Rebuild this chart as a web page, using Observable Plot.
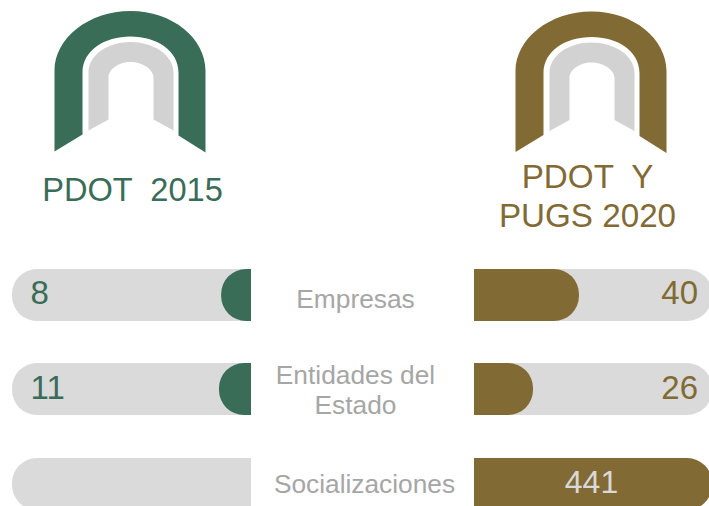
<!DOCTYPE html>
<html><head><meta charset="utf-8">
<style>html,body{margin:0;padding:0;background:#fff;overflow:hidden}svg{display:block}</style>
<script src="https://cdn.jsdelivr.net/npm/d3@7"></script>
<script src="https://cdn.jsdelivr.net/npm/@observablehq/plot@0.6"></script>
</head><body>
<script>
// Data
const categories = ["Empresas", "Entidades del\nEstado", "Socializaciones"];
const values2015 = [8, 11, null];
const values2020 = [40, 26, 441];
const fillShare2015 = [0.125, 0.134, 0];
const fillShare2020 = [0.441, 0.248, 1];
const headers = ["PDOT  2015", "PDOT  Y\nPUGS 2020"];

// Style and layout
const green = "#396D57", brown = "#826A34", track = "#DADADA", arch = "#D2D2D2", grey = "#A6A6A6";
const font = "Liberation Sans, Arial, sans-serif";
const leftEdge = 251, leftLen = 239, rightEdge = 474, rightLen = 238;
const rowTop = [269, 363, 458], rowHeight = 52, radius = 25;
const rowIdx = d3.range(categories.length);

// Arch glyphs, drawn relative to their centre
const outerArch = {draw(c) {
  c.moveTo(-76, 71); c.lineTo(-76, -10);
  c.bezierCurveTo(-76, -42, -42, -69.5, 0, -69.5);
  c.bezierCurveTo(42, -69.5, 75, -42, 75, -10);
  c.lineTo(75, 72); c.lineTo(48, 55); c.lineTo(48, -8);
  c.bezierCurveTo(48, -30, 26, -44, 0, -44);
  c.bezierCurveTo(-26, -44, -48, -30, -48, -8);
  c.lineTo(-48, 54); c.closePath();
}};
const innerArch = {draw(c) {
  c.moveTo(-42, 50); c.lineTo(-42, -8);
  c.bezierCurveTo(-42, -26, -22, -38.5, 0, -38.5);
  c.bezierCurveTo(22, -38.5, 43, -26, 43, -8);
  c.lineTo(43, 50); c.lineTo(23, 39); c.lineTo(23, -3);
  c.bezierCurveTo(23, -11, 12, -18.5, 0, -18.5);
  c.bezierCurveTo(-12, -18.5, -22, -11, -22, -3);
  c.lineTo(-22, 39); c.closePath();
}};
const icons = [{x: 130, y: 80, color: green}, {x: 591, y: 80.5, color: brown}];

const rects = (edge, len, side, share) => rowIdx.map(i => ({
  x1: side < 0 ? edge - share(i) * len : edge,
  x2: side < 0 ? edge : edge + share(i) * len,
  y1: rowTop[i], y2: rowTop[i] + rowHeight
}));
const mid = i => rowTop[i] + rowHeight / 2;

const chart = Plot.plot({
  width: 709, height: 506,
  margin: 0,
  x: {domain: [0, 709], range: [0, 709], axis: null},
  y: {domain: [0, 506], range: [0, 506], axis: null},
  style: {fontFamily: font, background: "#fff"},
  marks: [
    Plot.rect(rects(leftEdge, leftLen, -1, () => 1), {x1: "x1", x2: "x2", y1: "y1", y2: "y2", fill: track, rx1: radius}),
    Plot.rect(rects(rightEdge, rightLen, 1, () => 1), {x1: "x1", x2: "x2", y1: "y1", y2: "y2", fill: track, rx2: radius}),
    Plot.rect(rects(leftEdge, leftLen, -1, i => fillShare2015[i]).filter((d, i) => fillShare2015[i] > 0), {x1: "x1", x2: "x2", y1: "y1", y2: "y2", fill: green, rx1: radius}),
    Plot.rect(rects(rightEdge, rightLen, 1, i => fillShare2020[i]), {x1: "x1", x2: "x2", y1: "y1", y2: "y2", fill: brown, rx2: radius}),
    Plot.dot(icons, {x: "x", y: "y", symbol: outerArch, fill: "color", r: 10}),
    Plot.dot(icons, {x: "x", y: "y", symbol: innerArch, fill: arch, r: 10}),
    Plot.text([headers[0]], {x: () => 132, y: () => 190, text: d => d, fill: green, fontSize: 32.6, textAnchor: "middle"}),
    Plot.text([headers[1]], {x: () => 587, y: () => 195, text: d => d, fill: brown, fontSize: 33.2, lineHeight: 1.175, textAnchor: "middle"}),
    Plot.text(rowIdx, {x: i => i === 2 ? 364 : 355, y: i => mid(i) + (i === 0 ? 3 : i === 2 ? -1.5 : 0), text: i => categories[i], fill: grey, fontSize: 26.3, lineHeight: 1.14, textAnchor: "middle"}),
    Plot.text(rowIdx.filter(i => values2015[i] != null), {x: () => 30, y: i => mid(i) - (i === 0 ? 2 : 1), text: i => String(values2015[i]), fill: green, fontSize: 33, textAnchor: "start"}),
    Plot.text(rowIdx.filter(i => i < 2), {x: () => 697.5, y: i => mid(i) - (i === 0 ? 2 : 1), text: i => String(values2020[i]), fill: brown, fontSize: 33, textAnchor: "end"}),
    Plot.text([2], {x: () => 591, y: () => 482.5, text: i => String(values2020[i]), fill: "#D9D9D9", fontSize: 32, textAnchor: "middle"})
  ]
});
document.body.appendChild(chart);
</script>
</body></html>
